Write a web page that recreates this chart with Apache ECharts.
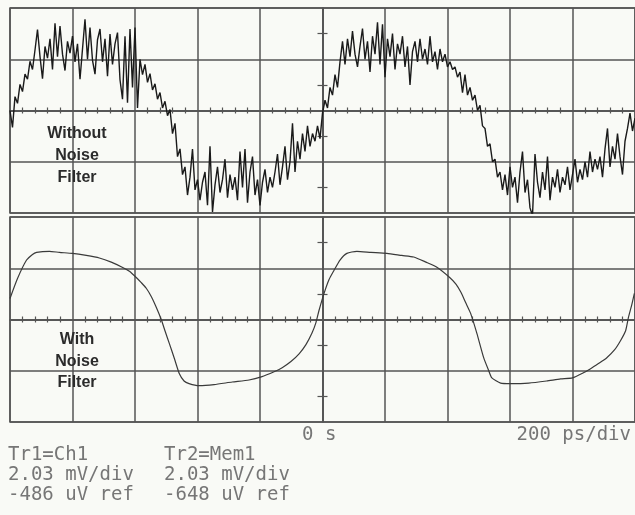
<!DOCTYPE html>
<html><head><meta charset="utf-8">
<script src="https://cdn.jsdelivr.net/npm/echarts@6/dist/echarts.min.js"></script>
<style>html,body{margin:0;padding:0;background:#f9faf6;}#c{width:635px;height:515px;}</style>
</head><body><div id="c"></div>
<script>
// Time base: 200 ps/div, 10 divisions, centre = 0 s
const timeStartPs = -1000;
const timeEndPs = 1000;
const psPerDiv = 200;
const mVPerDiv = 2.03;
const sampleStepPs = 8;

// Trace 1 (Ch1, without noise filter), read in screen divisions from centre
const rawTraceDiv = [
  0.00, -0.33, 0.27, 0.14, 0.51, 0.37, 0.71, 0.61, 0.96, 0.80,
  1.18, 1.58, 1.05, 0.62, 1.25, 1.02, 1.40, 0.80, 1.70, 1.05,
  1.65, 1.10, 0.78, 1.35, 1.12, 1.45, 0.95, 1.30, 0.61, 1.20,
  1.78, 1.00, 1.62, 0.98, 0.71, 1.38, 1.59, 0.95, 1.40, 0.67,
  1.49, 0.90, 1.30, 1.52, 0.60, 0.22, 1.45, 0.15, 1.59, 0.45,
  1.62, 0.05, 1.00, 0.70, 0.90, 0.55, 0.72, 0.40, 0.52, 0.22,
  0.35, 0.05, 0.18, -0.10, 0.02, -0.45, -0.25, -0.90, -0.75, -1.25,
  -1.10, -1.65, -1.30, -0.75, -1.55, -1.35, -1.75, -1.40, -1.20, -1.85,
  -0.70, -1.98, -1.45, -1.10, -1.60, -1.35, -0.95, -1.70, -1.25, -1.55,
  -1.30, -1.75, -0.80, -1.50, -0.75, -1.80, -1.20, -0.90, -1.65, -1.35,
  -1.85, -1.40, -1.15, -1.60, -1.30, -1.50, -1.20, -0.85, -1.45, -1.10,
  -0.70, -1.35, -1.00, -0.25, -1.20, -0.60, -0.95, -0.45, -0.80, -0.30,
  -0.70, -0.45, -0.60, -0.30, -0.55, -0.05, 0.20, 0.05, 0.45, 0.30,
  0.70, 0.45, 0.95, 1.35, 0.90, 1.40, 1.05, 1.55, 1.10, 0.85,
  1.25, 1.60, 1.00, 1.35, 0.75, 1.45, 1.10, 1.72, 0.90, 1.68,
  0.65, 1.40, 1.05, 1.50, 0.80, 1.30, 1.10, 1.45, 0.85, 1.25,
  0.50, 1.15, 1.35, 0.95, 1.40, 1.00, 1.20, 0.90, 1.45, 0.95,
  1.15, 0.80, 1.20, 0.95, 1.10, 0.85, 0.95, 0.80, 0.85, 0.65,
  0.75, 0.35, 0.70, 0.30, 0.45, 0.20, 0.30, 0.00, 0.10, -0.30,
  -0.35, -0.70, -0.65, -1.00, -0.95, -1.30, -1.20, -1.55, -1.25, -1.65,
  -1.10, -1.50, -1.30, -1.80, -1.20, -0.80, -1.60, -1.35, -1.90, -2.05,
  -0.85, -1.40, -1.70, -1.20, -1.55, -0.90, -1.75, -1.30, -1.50, -1.15,
  -1.60, -1.30, -1.45, -1.10, -1.55, -1.25, -0.95, -1.40, -1.15, -1.35,
  -1.00, -1.30, -0.80, -1.20, -0.95, -1.15, -0.90, -1.30, -0.75, -0.35,
  -1.10, -0.70, -0.95, -0.45, -0.90, -1.25, -0.60, -0.35, -0.05, -0.40,
  -0.15
];

// Trace 2 (Mem1, with noise filter)
const filtTimePs = [
  -1000, -976, -947, -928, -915, -874, -842, -800, -756, -714,
  -676, -641, -618, -596, -580, -564, -548, -532, -516, -503,
  -490, -474, -458, -443, -427, -395, -347, -289, -235, -196,
  -155, -129, -101, -75, -53, -34, -21, -11, 5, 21,
  37, 56, 78, 110, 155, 206, 254, 292, 331, 366,
  407, 427, 443, 458, 474, 494, 516, 532, 542, 570,
  602, 660, 717, 762, 800, 835, 858, 883, 909, 935,
  954, 970, 979, 989, 998
];
const filtTraceDiv = [
  0.41, 0.80, 1.16, 1.27, 1.31, 1.33, 1.31, 1.29, 1.25, 1.20,
  1.12, 1.02, 0.94, 0.82, 0.72, 0.61, 0.45, 0.24, 0.00, -0.24,
  -0.47, -0.76, -1.06, -1.20, -1.25, -1.29, -1.27, -1.22, -1.18, -1.12,
  -1.02, -0.94, -0.82, -0.67, -0.49, -0.27, -0.06, 0.18, 0.51, 0.78,
  0.96, 1.16, 1.29, 1.33, 1.31, 1.29, 1.25, 1.22, 1.12, 1.02,
  0.82, 0.69, 0.53, 0.33, 0.12, -0.27, -0.75, -1.00, -1.14, -1.24,
  -1.25, -1.24, -1.20, -1.16, -1.14, -1.04, -0.96, -0.86, -0.75, -0.59,
  -0.41, -0.22, 0.04, 0.27, 0.51
];

const panelLabels = [["Without", "Noise", "Filter"], ["With", "Noise", "Filter"]];
const centerLabel = "0 s";
const scaleLabel = "200 ps/div";
const traceInfo = [
  ["Tr1=Ch1", "2.03 mV/div", "-486 uV ref"],
  ["Tr2=Mem1", "2.03 mV/div", "-648 uV ref"]
];

const GRID_C = '#555';
const TEXT_C = '#767676';
const panels = [{ top: 8, height: 205 }, { top: 217, height: 205 }];

const grids = panels.map(p => ({
  left: 10, width: 626, top: p.top, height: p.height,
  show: true, borderColor: GRID_C, borderWidth: 1.5, backgroundColor: 'transparent'
}));

const xAxes = [], yAxes = [];
panels.forEach((p, g) => {
  ['bottom', 'top'].forEach((pos, k) => {
    xAxes.push({
      gridIndex: g, type: 'value', min: timeStartPs, max: timeEndPs, interval: psPerDiv,
      position: pos,
      axisLine: { show: true, onZero: true, lineStyle: { color: GRID_C, width: 1.5 } },
      axisTick: { show: false },
      minorTick: { show: true, splitNumber: 5, length: 3, lineStyle: { color: GRID_C, width: 1.2 } },
      axisLabel: { show: false },
      splitLine: { show: k === 0, lineStyle: { color: GRID_C, width: 1.5 } }
    });
  });
  ['left', 'right'].forEach((pos, k) => {
    yAxes.push({
      gridIndex: g, type: 'value', min: -2 * mVPerDiv, max: 2 * mVPerDiv, interval: mVPerDiv,
      position: pos,
      axisLine: { show: true, onZero: true, lineStyle: { color: GRID_C, width: 1.5 } },
      axisTick: { show: false },
      minorTick: { show: true, splitNumber: 2, length: 5, lineStyle: { color: GRID_C, width: 1.2 } },
      axisLabel: { show: false },
      splitLine: { show: k === 0, lineStyle: { color: GRID_C, width: 1.5 } }
    });
  });
});

const rawData = rawTraceDiv.map((v, i) => [timeStartPs + i * sampleStepPs, v * mVPerDiv]);
const filtData = filtTimePs.map((t, i) => [t, filtTraceDiv[i] * mVPerDiv]);

const graphics = [];
const labelY = [[134, 156, 178], [340, 362, 383]];
panelLabels.forEach((lines, g) => {
  lines.forEach((txt, j) => {
    graphics.push({
      type: 'text', x: 77, y: labelY[g][j], z: 10,
      style: { text: txt, font: 'bold 16px "Liberation Sans", Arial, sans-serif', fill: '#2b2b2b',
        textAlign: 'center', textVerticalAlign: 'middle' }
    });
  });
});
const monoFont = '19px "DejaVu Sans Mono", "Liberation Mono", monospace';
graphics.push({ type: 'text', x: 302, y: 435, style: { text: centerLabel, font: monoFont, fill: TEXT_C, textVerticalAlign: 'middle' } });
graphics.push({ type: 'text', x: 631, y: 435, style: { text: scaleLabel, font: monoFont, fill: TEXT_C, textAlign: 'right', textVerticalAlign: 'middle' } });
const colX = [8, 164];
const rowY = [455, 475, 495];
traceInfo.forEach((col, c) => {
  col.forEach((txt, r) => {
    graphics.push({ type: 'text', x: colX[c], y: rowY[r], style: { text: txt, font: monoFont, fill: TEXT_C, textVerticalAlign: 'middle' } });
  });
});

const chart = echarts.init(document.getElementById('c'), null, { renderer: 'canvas' });
chart.setOption({
  animation: false,
  backgroundColor: '#f9faf6',
  grid: grids,
  xAxis: xAxes,
  yAxis: yAxes,
  series: [
    { type: 'line', xAxisIndex: 0, yAxisIndex: 0, data: rawData, showSymbol: false, silent: true,
      lineStyle: { color: '#1a1a1a', width: 1.4 }, z: 5 },
    { type: 'line', xAxisIndex: 2, yAxisIndex: 2, data: filtData, showSymbol: false, silent: true, smooth: 0.2,
      lineStyle: { color: '#3a3a3a', width: 1.2 }, z: 5 }
  ],
  graphic: graphics
});
</script>
</body></html>
